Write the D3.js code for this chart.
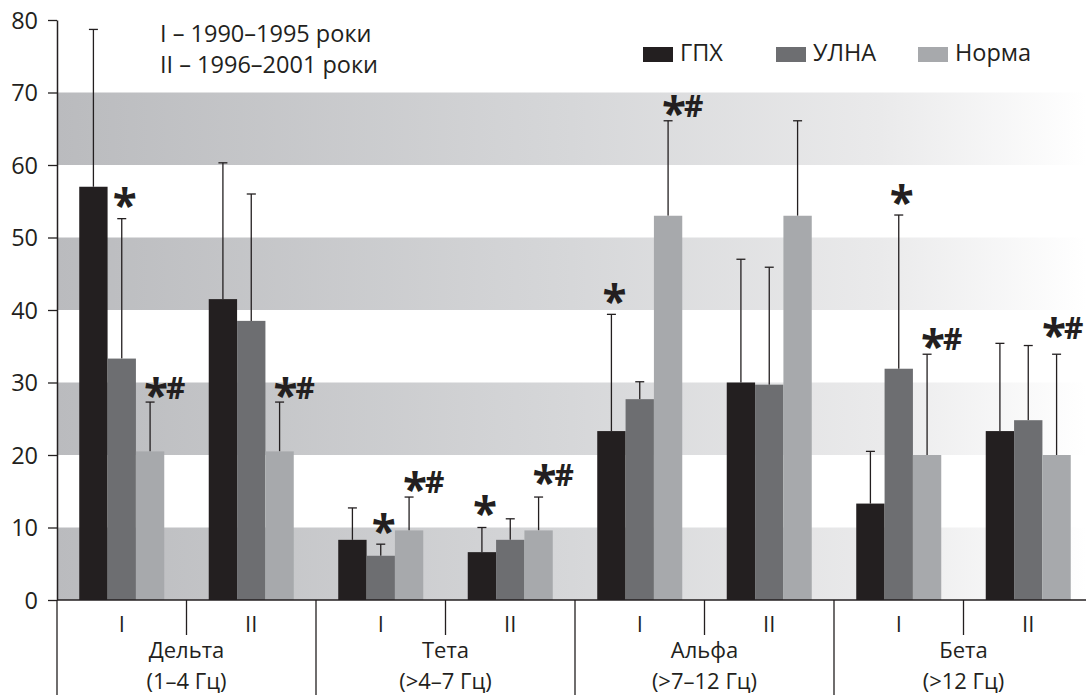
<!DOCTYPE html>
<html><head><meta charset="utf-8">
<script src="https://cdn.jsdelivr.net/npm/d3@7"></script>
<style>body{margin:0;background:#fff}svg{display:block}text{font-family:"Open Sans",sans-serif;fill:#231f20}</style>
</head><body><svg id="c" width="1086" height="695"></svg>
<script>
const groups = ["Дельта","Тета","Альфа","Бета"];
const groupRanges = ["(1–4 Гц)","(>4–7 Гц)","(>7–12 Гц)","(>12 Гц)"];
const periods = ["I","II"];
const series = ["ГПХ","УЛНА","Норма"];
const periodNotes = ["I – 1990–1995 роки","II – 1996–2001 роки"];
const yTicks = [0,10,20,30,40,50,60,70,80];
const shadedBands = [[0,10],[20,30],[40,50],[60,70]];
// order: Дельта I, Дельта II, Тета I, Тета II, Альфа I, Альфа II, Бета I, Бета II
const gpxMean   = [57.0, 41.5, 8.3, 6.6, 23.3, 30.0, 13.3, 23.3];
const gpxUpper  = [78.7, 60.3, 12.7, 10.0, 39.4, 47.0, 20.5, 35.4];
const ulnaMean  = [33.3, 38.5, 6.1, 8.3, 27.7, 29.7, 31.9, 24.8];
const ulnaUpper = [52.6, 56.0, 7.7, 11.2, 30.1, 45.9, 53.1, 35.1];
const normMean  = [20.5, 20.5, 9.6, 9.6, 53.0, 53.0, 20.0, 20.0];
const normUpper = [27.3, 27.3, 14.2, 14.2, 66.1, 66.1, 33.9, 33.9];
// significance marks: [group index, period index, series index, text, level]
const marks = [
  [0,0,1,"*",55.5],[0,0,2,"*#",29.2],[0,1,2,"*#",29.2],
  [1,0,1,"*",10.5],[1,0,2,"*#",16.3],[1,1,0,"*",12.9],[1,1,2,"*#",17.2],
  [2,0,0,"*",42.2],[2,0,2,"*#",68.1],
  [3,0,1,"*",55.8],[3,0,2,"*#",36.0],[3,1,2,"*#",37.5]
];

const colors = {"ГПХ":"#231f20","УЛНА":"#6d6e71","Норма":"#a7a9ac"};
const svg = d3.select("#c");
const x0 = 57, xEnd = 1086;
const y = d3.scaleLinear().domain([0,80]).range([600,20]);
const xg = d3.scaleBand().domain(groups).range([x0, x0 + 4*259]);
const xp = d3.scaleBand().domain(periods).range([0, xg.bandwidth()]);
const xs = d3.scaleBand().domain(series).range([0, xp.bandwidth()]).paddingInner(0).paddingOuter(0.785);

const defs = svg.append("defs");
const grad = defs.append("linearGradient").attr("id","bg").attr("gradientUnits","userSpaceOnUse")
  .attr("x1",x0).attr("x2",xEnd).attr("y1",0).attr("y2",0);
[[0,"#babbbe"],[0.5,"#d6d7d9"],[0.8,"#eaeaeb"],[1,"#ffffff"]].forEach(([o,c])=>grad.append("stop").attr("offset",o).attr("stop-color",c));

svg.append("g").selectAll("rect").data(shadedBands).join("rect")
  .attr("x",x0).attr("width",xEnd-x0)
  .attr("y",d=>y(d[1])).attr("height",d=>y(d[0])-y(d[1]))
  .attr("fill","url(#bg)");

const means = [gpxMean, ulnaMean, normMean];
const uppers = [gpxUpper, ulnaUpper, normUpper];
const rows = [];
groups.forEach((g,gi)=>periods.forEach((p,pi)=>series.forEach((s,si)=>{
  const k = gi*2+pi;
  rows.push({g,p,s,v:means[si][k],u:uppers[si][k]});
})));
const cx = d => xg(d.g)+xp(d.p)+xs(d.s)+xs.bandwidth()/2;

const eb = svg.append("g").attr("stroke","#231f20").attr("stroke-width",1.3);
eb.selectAll("line.v").data(rows).join("line").attr("class","v")
  .attr("x1",cx).attr("x2",cx).attr("y1",d=>y(d.v)).attr("y2",d=>y(d.u));
eb.selectAll("line.c").data(rows).join("line").attr("class","c")
  .attr("x1",d=>cx(d)-4.5).attr("x2",d=>cx(d)+4.5).attr("y1",d=>y(d.u)).attr("y2",d=>y(d.u));

svg.append("g").selectAll("rect").data(rows).join("rect")
  .attr("x",d=>xg(d.g)+xp(d.p)+xs(d.s)).attr("width",xs.bandwidth())
  .attr("y",d=>y(d.v)).attr("height",d=>y(0)-y(d.v))
  .attr("fill",d=>colors[d.s]);

const mk = svg.append("g").attr("font-weight","bold");
marks.forEach(([gi,pi,si,t,lev])=>{
  const xc = xg(groups[gi])+xp(periods[pi])+xs(series[si])+xs.bandwidth()/2;
  const yc = y(lev);
  if (t==="*") {
    mk.append("text").attr("x",xc+3).attr("y",yc+23).attr("text-anchor","middle").attr("font-size",44).text("*");
  } else {
    const left = Math.min(xc-6, xEnd-44);
    const tx = mk.append("text").attr("x",left).attr("y",yc+23);
    tx.append("tspan").attr("font-size",44).text("*");
    tx.append("tspan").attr("font-size",30).attr("dy",-12).attr("dx",-2).text("#");
  }
});

const ya = svg.append("g").attr("transform",`translate(${x0},0)`)
  .call(d3.axisLeft(y).tickValues(yTicks).tickSize(9).tickSizeOuter(0).tickPadding(10));
ya.select(".domain").attr("stroke","#231f20").attr("stroke-width",1.5);
ya.selectAll(".tick line").attr("stroke","#231f20").attr("stroke-width",1.3);
ya.selectAll(".tick text").attr("font-size",23.5).attr("font-family","Open Sans").attr("fill","#231f20").attr("dy","0.34em");

const ax = svg.append("g").attr("stroke","#231f20");
ax.append("line").attr("x1",x0).attr("x2",xEnd).attr("y1",y(0)).attr("y2",y(0)).attr("stroke-width",1.5);
ax.selectAll("line.g").data(groups).join("line").attr("class","g")
  .attr("x1",d=>xg(d)).attr("x2",d=>xg(d)).attr("y1",y(0)).attr("y2",695).attr("stroke-width",1.3);
ax.selectAll("line.s").data(groups).join("line").attr("class","s")
  .attr("x1",d=>xg(d)+xp("II")).attr("x2",d=>xg(d)+xp("II")).attr("y1",y(0)).attr("y2",635).attr("stroke-width",1.3);

const lab = svg.append("g").attr("font-size",22).attr("text-anchor","middle");
groups.forEach((g,gi)=>{
  periods.forEach(p=>lab.append("text").attr("x",xg(g)+xp(p)+xp.bandwidth()/2).attr("y",632).text(p));
  lab.append("text").attr("x",xg(g)+xg.bandwidth()/2).attr("y",658).text(g);
  lab.append("text").attr("x",xg(g)+xg.bandwidth()/2).attr("y",689).text(groupRanges[gi]);
});

svg.append("g").attr("font-size",23.5).selectAll("text").data(periodNotes).join("text")
  .attr("x",160).attr("y",(d,i)=>42+i*31).text(d=>d);

const lg = svg.append("g");
const legX = [643, 776, 918];
series.forEach((s,i)=>{
  lg.append("rect").attr("x",legX[i]).attr("y",47).attr("width",30).attr("height",15).attr("fill",colors[s]);
  lg.append("text").attr("x",legX[i]+37).attr("y",61).attr("font-size",23.5).text(s);
});
</script></body></html>
